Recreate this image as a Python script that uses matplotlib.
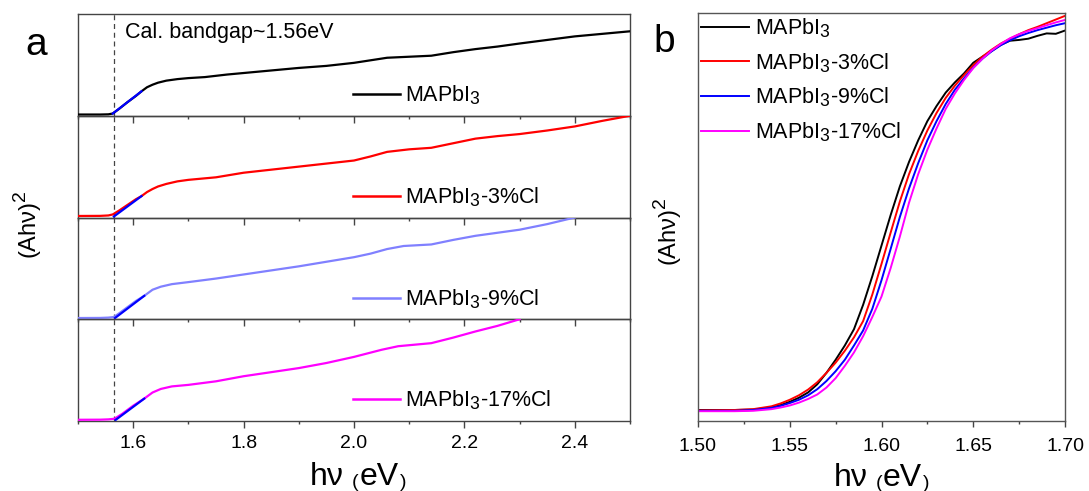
import matplotlib
matplotlib.use("Agg")
import matplotlib.pyplot as plt
from matplotlib.ticker import MultipleLocator, FormatStrFormatter, NullLocator
from matplotlib.lines import Line2D
try:
    import matplotlib._mathtext as _mt
    _mt.SHRINK_FACTOR = 0.82
except Exception:
    pass

plt.rcParams['font.family'] = ['Liberation Sans', 'DejaVu Sans']
plt.rcParams['mathtext.fontset'] = 'custom'
plt.rcParams['mathtext.rm'] = 'Liberation Sans'
plt.rcParams['mathtext.it'] = 'Liberation Sans:italic'
plt.rcParams['mathtext.bf'] = 'Liberation Sans:bold'

# ---------------- data: panel a (normalised within each sub-panel) ----------------
labels = ["MAPbI$_3$", "MAPbI$_3$-3%Cl", "MAPbI$_3$-9%Cl", "MAPbI$_3$-17%Cl"]
colors_a = ["#000000", "#ff0000", "#8080ff", "#ff00ff"]

a0_x = [1.50, 1.54, 1.555, 1.563, 1.575, 1.59, 1.605, 1.615, 1.625, 1.635, 1.645, 1.66, 1.68, 1.70,
        1.73, 1.77, 1.80, 1.85, 1.90, 1.95, 2.00, 2.03, 2.06, 2.10, 2.14, 2.18, 2.22, 2.26, 2.30,
        2.35, 2.40, 2.45, 2.50]
a0_y = [0.012, 0.012, 0.014, 0.022, 0.07, 0.135, 0.195, 0.24, 0.28, 0.305, 0.325, 0.345, 0.36, 0.37,
        0.38, 0.405, 0.42, 0.445, 0.47, 0.49, 0.52, 0.545, 0.57, 0.58, 0.59, 0.625, 0.655, 0.68, 0.71,
        0.745, 0.78, 0.805, 0.83]

a1_x = [1.50, 1.54, 1.555, 1.563, 1.575, 1.59, 1.605, 1.615, 1.625, 1.635, 1.645, 1.66, 1.68, 1.70,
        1.75, 1.80, 1.85, 1.90, 1.95, 2.00, 2.03, 2.06, 2.10, 2.14, 2.18, 2.22, 2.26, 2.30, 2.35,
        2.40, 2.45, 2.50]
a1_y = [0.015, 0.016, 0.02, 0.03, 0.07, 0.125, 0.18, 0.21, 0.25, 0.28, 0.305, 0.33, 0.355, 0.37,
        0.395, 0.44, 0.47, 0.50, 0.53, 0.56, 0.60, 0.645, 0.67, 0.685, 0.73, 0.775, 0.80, 0.82, 0.855,
        0.895, 0.95, 1.0]

a2_x = [1.50, 1.54, 1.555, 1.565, 1.575, 1.59, 1.605, 1.62, 1.635, 1.65, 1.67, 1.70, 1.75, 1.80,
        1.85, 1.90, 1.95, 2.00, 2.03, 2.06, 2.09, 2.14, 2.18, 2.22, 2.26, 2.30, 2.35, 2.40]
a2_y = [0.012, 0.013, 0.016, 0.022, 0.06, 0.12, 0.18, 0.23, 0.29, 0.32, 0.345, 0.365, 0.40, 0.44,
        0.48, 0.52, 0.565, 0.61, 0.645, 0.69, 0.72, 0.735, 0.78, 0.82, 0.85, 0.88, 0.935, 1.0]

a3_x = [1.50, 1.54, 1.555, 1.566, 1.58, 1.60, 1.62, 1.635, 1.65, 1.67, 1.70, 1.75, 1.80, 1.85,
        1.90, 1.95, 2.00, 2.05, 2.08, 2.14, 2.18, 2.22, 2.26, 2.30]
a3_y = [0.012, 0.013, 0.016, 0.022, 0.07, 0.15, 0.22, 0.28, 0.315, 0.34, 0.355, 0.39, 0.44, 0.48,
        0.52, 0.57, 0.63, 0.70, 0.735, 0.765, 0.82, 0.88, 0.935, 1.0]

# linear fits (Tauc extrapolation) in each sub-panel
fit_x = [[1.563, 1.615], [1.565, 1.615], [1.567, 1.62], [1.568, 1.62]]
fit_y = [[0.022, 0.24], [0.01, 0.21], [0.012, 0.23], [0.01, 0.22]]
bandgap = 1.565

# ---------------- data: panel b ----------------
b_x = [1.500, 1.520, 1.530, 1.540, 1.545, 1.550, 1.555, 1.560, 1.565, 1.570, 1.575, 1.580, 1.585,
       1.590, 1.595, 1.600, 1.605, 1.610, 1.615, 1.620, 1.625, 1.630, 1.635, 1.640, 1.645, 1.650,
       1.655, 1.660, 1.665, 1.670, 1.675, 1.680, 1.685, 1.690, 1.695, 1.700]
b_black = [0.027, 0.027, 0.028, 0.033, 0.039, 0.047, 0.057, 0.070, 0.090, 0.118, 0.150, 0.185, 0.225,
           0.285, 0.355, 0.430, 0.505, 0.575, 0.635, 0.688, 0.735, 0.772, 0.805, 0.830, 0.852, 0.878,
           0.893, 0.907, 0.922, 0.932, 0.934, 0.937, 0.944, 0.950, 0.949, 0.957]
b_red = [0.026, 0.027, 0.029, 0.036, 0.043, 0.052, 0.063, 0.077, 0.095, 0.118, 0.143, 0.172, 0.205,
         0.245, 0.310, 0.385, 0.462, 0.538, 0.605, 0.662, 0.712, 0.755, 0.792, 0.822, 0.848, 0.872,
         0.893, 0.910, 0.925, 0.937, 0.948, 0.958, 0.966, 0.975, 0.984, 0.993]
b_blue = [0.025, 0.025, 0.027, 0.032, 0.037, 0.044, 0.052, 0.063, 0.078, 0.098, 0.122, 0.150, 0.185,
          0.222, 0.275, 0.345, 0.422, 0.500, 0.570, 0.632, 0.688, 0.735, 0.777, 0.812, 0.840, 0.866,
          0.888, 0.906, 0.921, 0.933, 0.943, 0.951, 0.958, 0.964, 0.970, 0.975]
b_magenta = [0.024, 0.024, 0.025, 0.029, 0.033, 0.038, 0.045, 0.054, 0.065, 0.082, 0.105, 0.135, 0.168,
             0.208, 0.255, 0.305, 0.375, 0.452, 0.535, 0.605, 0.665, 0.717, 0.765, 0.803, 0.836, 0.865,
             0.888, 0.908, 0.924, 0.938, 0.948, 0.956, 0.963, 0.970, 0.977, 0.983]
colors_b = ["#000000", "#ff0000", "#0000ff", "#ff00ff"]

# ---------------- figure ----------------
fig = plt.figure(figsize=(10.89, 4.91), dpi=100)
W, H = 1089.0, 491.0
spine_col = "#444444"


def rich_label(xc, y_base, parts):
    """parts: (text, fontsize, dy_px, gap_after_px); centred at xc (px), baseline y_base (px from top)."""
    r = fig.canvas.get_renderer()
    objs = []
    for s, size, dy, gap in parts:
        t = fig.text(0, 0, s, fontsize=size, va='baseline', ha='left')
        objs.append((t, dy, gap, t.get_window_extent(r).width))
    total = sum(w + g for _, _, g, w in objs)
    x = xc - total / 2.0
    for t, dy, gap, w in objs:
        t.set_position((x / W, 1 - (y_base + dy) / H))
        x += w + gap


xlabel_parts = [("hν", 23, 0, 8), ("(", 14, 2, 1), ("eV", 23, 0, 1), (")", 14, 2, 0)]

ax_left, ax_right = 78 / W, 630 / W
top_px, bot_px = 14, 421
sub_h = (bot_px - top_px) / 4.0
axes_a = []
a_xs = [a0_x, a1_x, a2_x, a3_x]
a_ys = [a0_y, a1_y, a2_y, a3_y]
for i in range(4):
    y_top = top_px + i * sub_h
    ax = fig.add_axes([ax_left, 1 - (y_top + sub_h) / H, ax_right - ax_left, sub_h / H])
    ax.patch.set_visible(False)
    ax.plot(a_xs[i], a_ys[i], color=colors_a[i], lw=1.6, zorder=3)
    ax.plot(fit_x[i], fit_y[i], color="#0000ff", lw=1.6, zorder=4)
    ax.axvline(bandgap, color="#444444", lw=0.9, ls=(0, (4, 3)), zorder=2)
    ax.set_xlim(1.5, 2.5)
    ax.set_ylim(0, 1)
    ax.yaxis.set_major_locator(NullLocator())
    ax.xaxis.set_major_locator(MultipleLocator(0.2))
    ax.xaxis.set_minor_locator(MultipleLocator(0.1))
    ax.xaxis.set_major_formatter(FormatStrFormatter('%.1f'))
    ax.tick_params(axis='x', which='major', direction='out', length=5, width=1, color=spine_col,
                   labelsize=14, pad=5)
    ax.tick_params(axis='x', which='minor', direction='out', length=2.5, width=1, color=spine_col)
    if i < 3:
        ax.tick_params(axis='x', labelbottom=False)
    for s in ax.spines.values():
        s.set_color(spine_col)
        s.set_linewidth(1.0)
    h = Line2D([], [], color=colors_a[i], lw=1.8)
    ax.legend([h], [labels[i]], loc='center left', bbox_to_anchor=(0.4976, 0.20), frameon=False,
              fontsize=15.5, handlelength=2.2, handletextpad=0.25, borderpad=0, borderaxespad=0)
    axes_a.append(ax)

axes_a[0].text(1.585, 0.82, "Cal. bandgap~1.56eV", fontsize=15.5, va='center', ha='left')
rich_label((78 + 630) / 2.0 + 4, 485, xlabel_parts)
fig.text(28 / W, 1 - 225 / H, "(Ahν)$^2$", rotation=90, fontsize=17, ha='center', va='center')
fig.text(36 / W, 1 - 45 / H, "a", fontsize=28, ha='center', va='center')

# panel b
axb = fig.add_axes([698 / W, 1 - 421 / H, (1065 - 698) / W, (421 - 13) / H])
b_series = [b_black, b_red, b_blue, b_magenta]
for ys, c, lab in zip(b_series, colors_b, labels):
    axb.plot(b_x, ys, color=c, lw=1.4, label=lab)
axb.set_xlim(1.50, 1.70)
axb.set_ylim(0, 1)
axb.yaxis.set_major_locator(NullLocator())
axb.xaxis.set_major_locator(MultipleLocator(0.05))
axb.xaxis.set_minor_locator(MultipleLocator(0.025))
axb.xaxis.set_major_formatter(FormatStrFormatter('%.2f'))
axb.tick_params(axis='x', which='major', direction='out', length=4.5, width=1, color=spine_col,
                labelsize=14, pad=7.5)
axb.tick_params(axis='x', which='minor', direction='out', length=2.5, width=1, color=spine_col)
for s in axb.spines.values():
    s.set_color("#555555")
    s.set_linewidth(1.0)
axb.legend(loc='upper left', bbox_to_anchor=(0, 1), frameon=False, fontsize=15.5,
           handlelength=2.2, handletextpad=0.3, labelspacing=0.52, borderpad=0.15, borderaxespad=0)
rich_label((698 + 1065) / 2.0, 486, xlabel_parts)
fig.text(668 / W, 1 - 232 / H, "(Ahν)$^2$", rotation=90, fontsize=17, ha='center', va='center')
fig.text(664 / W, 1 - 42 / H, "b", fontsize=28, ha='center', va='center')

fig.savefig("out.png", dpi=100)
